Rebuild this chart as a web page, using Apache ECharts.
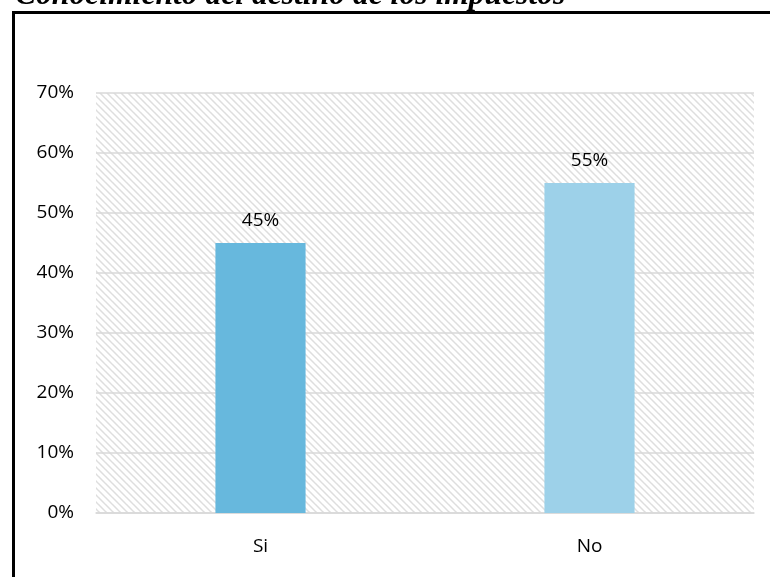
<!DOCTYPE html>
<html><head><meta charset="utf-8">
<script src="https://cdn.jsdelivr.net/npm/echarts@6/dist/echarts.min.js"></script>
<style>html,body{margin:0;padding:0;background:#fff}#c{width:770px;height:577px}</style>
</head><body><div id="c"></div>
<script>
const titleText = "Conocimiento del destino de los impuestos";
const categories = ["Si", "No"];
const values = [45, 55];
const barColors = ["#67b8dd", "#9dd1e9"];
const yTicks = [0, 10, 20, 30, 40, 50, 60, 70];

const S = 7;
const pc = document.createElement('canvas');
pc.width = S; pc.height = S;
const g = pc.getContext('2d');
g.fillStyle = '#ffffff'; g.fillRect(0,0,S,S);
g.strokeStyle = '#dedede'; g.lineWidth = 1.5;
g.beginPath();
for (let k = -2; k <= 2; k++) { g.moveTo(k*S - S, -S); g.lineTo(k*S + S, S); g.moveTo(k*S - S, 0); g.lineTo(k*S + S, 2*S); }
g.stroke();

const chart = echarts.init(document.getElementById('c'));
chart.setOption({
  animation: false,
  title: {
    text: titleText, left: 10, top: -25,
    textStyle: {fontFamily: 'Liberation Serif', fontStyle: 'italic', fontWeight: 'bold', fontSize: 31.6, color: '#000'}
  },
  graphic: [{type: 'rect', shape: {x: 13.5, y: 12.5, width: 800, height: 600}, style: {fill: 'none', stroke: '#000', lineWidth: 3}, z: 100}],
  grid: {left: 96, right: 16, top: 93, bottom: 64, show: true, borderWidth: 0,
    backgroundColor: {image: pc, repeat: 'repeat'}},
  xAxis: {type: 'category', data: categories,
    axisLine: {show: true, lineStyle: {color: '#d9d9d9', width: 1.5}},
    axisTick: {show: false},
    axisLabel: {fontFamily: 'Open Sans', fontSize: 19, color: '#000', margin: 24}},
  yAxis: {type: 'value', min: 0, max: 70, interval: 10,
    axisLine: {show: false}, axisTick: {show: false},
    splitLine: {lineStyle: {color: '#d9d9d9', width: 1.5}},
    axisLabel: {fontFamily: 'Open Sans', fontSize: 19, color: '#000', margin: 22,
      formatter: v => yTicks.includes(v) ? v + '%' : ''}},
  series: [{type: 'bar', barWidth: '27.4%',
    data: values.map((v, i) => ({value: v, itemStyle: {color: barColors[i]}})),
    label: {show: true, position: 'top', distance: 13, formatter: p => p.value + '%',
      fontFamily: 'Open Sans', fontSize: 19, color: '#000'}}]
});
</script></body></html>
